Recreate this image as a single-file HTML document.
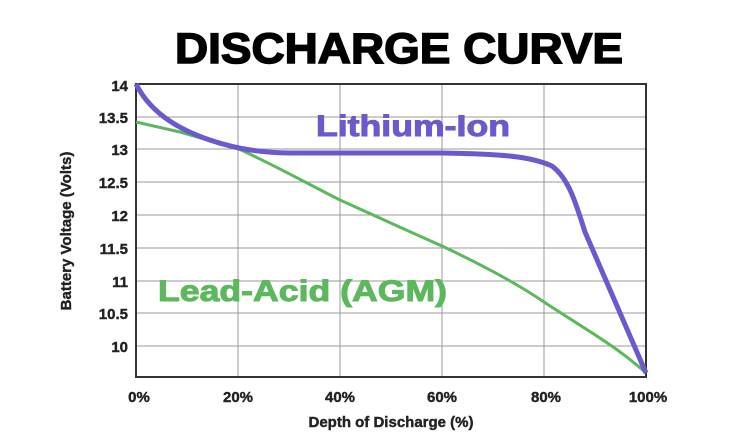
<!DOCTYPE html>
<html><head><style>body{margin:0;background:#fff}svg{display:block}</style></head><body>
<svg width="751" height="444" viewBox="0 0 751 444" xmlns="http://www.w3.org/2000/svg" font-family="Liberation Sans, sans-serif" font-weight="bold">
<rect width="751" height="444" fill="#fff"/>
<text x="175" y="63" font-size="43" textLength="448" lengthAdjust="spacingAndGlyphs" fill="#000" stroke="#000" stroke-width="1.5">DISCHARGE CURVE</text>
<g stroke="#999" stroke-width="1">
<line x1="136" y1="117" x2="646" y2="117"/><line x1="136" y1="149" x2="646" y2="149"/>
<line x1="136" y1="182" x2="646" y2="182"/><line x1="136" y1="215" x2="646" y2="215"/>
<line x1="136" y1="248" x2="646" y2="248"/><line x1="136" y1="281" x2="646" y2="281"/>
<line x1="136" y1="313" x2="646" y2="313"/><line x1="136" y1="346" x2="646" y2="346"/>
<line x1="238" y1="84" x2="238" y2="377"/><line x1="340" y1="84" x2="340" y2="377"/>
<line x1="442" y1="84" x2="442" y2="377"/><line x1="544" y1="84" x2="544" y2="377"/>
</g>
<rect x="136" y="84" width="510" height="293" fill="none" stroke="#333" stroke-width="2"/>
<g font-size="15" fill="#222" stroke="#222" stroke-width="0.4" text-anchor="end">
<text x="128" y="91">14</text><text x="128" y="123">13.5</text><text x="128" y="155">13</text>
<text x="128" y="188">12.5</text><text x="128" y="221">12</text><text x="128" y="254">11.5</text>
<text x="128" y="287">11</text><text x="128" y="319">10.5</text><text x="128" y="352">10</text>
</g>
<g font-size="15" fill="#222" stroke="#222" stroke-width="0.4" text-anchor="middle">
<text x="139" y="402">0%</text><text x="238" y="402">20%</text><text x="340" y="402">40%</text>
<text x="442" y="402">60%</text><text x="546" y="402">80%</text><text x="648" y="402">100%</text>
</g>
<text x="391" y="427" font-size="15" fill="#222" stroke="#222" stroke-width="0.4" text-anchor="middle">Depth of Discharge (%)</text>
<text transform="translate(71,231) rotate(-90)" font-size="15" fill="#222" stroke="#222" stroke-width="0.4" text-anchor="middle">Battery Voltage (Volts)</text>
<path d="M136,122 L180,132 L239,149 C280,168 310,185 340,200 C380,218 410,232 442,246 C480,264 515,282 544,302 C580,326 615,345 646,373" fill="none" stroke="#5cb85c" stroke-width="3"/>
<path d="M136,84 C150,112 180,135 239,148 C270,154 290,153 320,153 L442,153 C500,154 530,156 552,166 C568,178 575,200 585,232 L646,373" fill="none" stroke="#6a5acd" stroke-width="5"/>
<text x="316" y="136" font-size="30" textLength="194" lengthAdjust="spacingAndGlyphs" fill="#6a5acd" stroke="#6a5acd" stroke-width="1">Lithium-Ion</text>
<text x="158" y="301" font-size="30" textLength="289" lengthAdjust="spacingAndGlyphs" fill="#5cb85c" stroke="#5cb85c" stroke-width="1">Lead-Acid (AGM)</text>
</svg>
</body></html>
